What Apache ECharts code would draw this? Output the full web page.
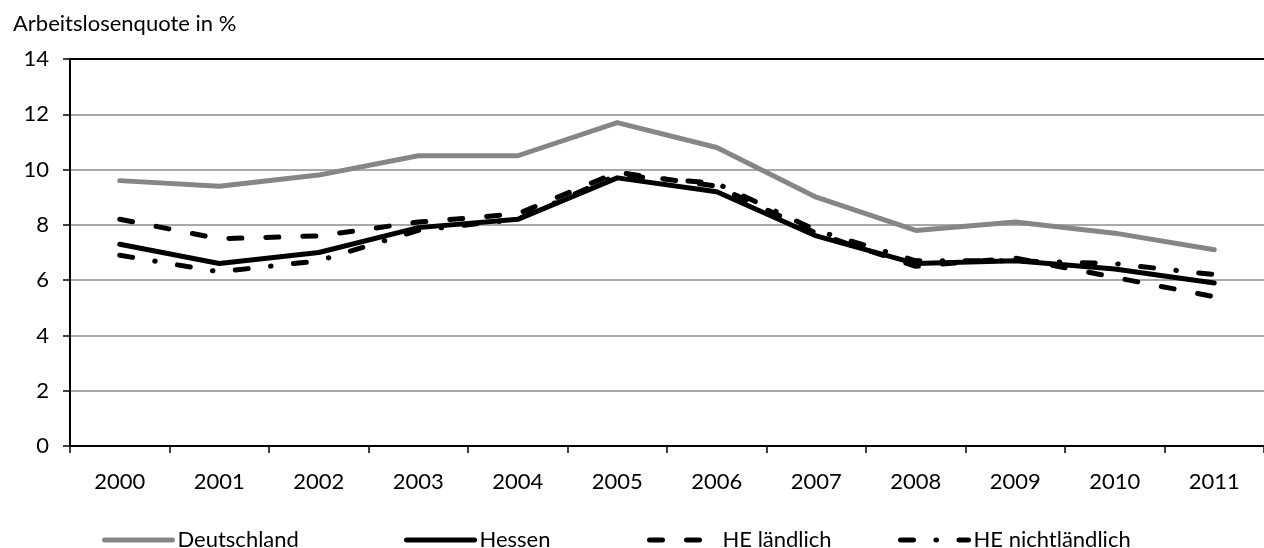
<!DOCTYPE html>
<html>
<head>
<meta charset="utf-8">
<script src="https://cdn.jsdelivr.net/npm/echarts@6/dist/echarts.min.js"></script>
<style>
  html, body { margin: 0; padding: 0; background: #fff; }
  #chart { width: 1264px; height: 548px; }
</style>
</head>
<body>
<div id="chart"></div>
<script>
const years = ["2000", "2001", "2002", "2003", "2004", "2005", "2006", "2007", "2008", "2009", "2010", "2011"];
const deutschland = [9.6, 9.4, 9.8, 10.5, 10.5, 11.7, 10.8, 9.0, 7.8, 8.1, 7.7, 7.1];
const hessen = [7.3, 6.6, 7.0, 7.9, 8.2, 9.7, 9.2, 7.6, 6.6, 6.7, 6.4, 5.9];
const heLaendlich = [8.2, 7.5, 7.6, 8.1, 8.4, 9.9, 9.4, 7.7, 6.5, 6.8, 6.1, 5.4];
const heNichtLaendlich = [6.9, 6.3, 6.7, 7.8, 8.2, 9.8, 9.5, 7.8, 6.7, 6.7, 6.6, 6.2];

const FONT = "Lato";
const TEXT_SIZE = 22;

function lineSeries(name, data, color, type) {
  return {
    name,
    type: "line",
    data,
    symbol: "none",
    animation: false,
    lineStyle: {
      color,
      width: 5,
      type,
      cap: "round",
      join: "round"
    },
    itemStyle: { color }
  };
}

// one legend per entry, so each can sit where Excel put it
function legendAt(name, left) {
  return {
    data: [name],
    left,
    top: 524,
    itemWidth: 68,
    itemHeight: 14,
    itemStyle: { opacity: 0 },
    lineStyle: { width: 5, cap: "round" },
    textStyle: { fontFamily: FONT, fontSize: TEXT_SIZE, color: "#000" }
  };
}

const chart = echarts.init(document.getElementById("chart"), null, { renderer: "canvas" });

chart.setOption({
  backgroundColor: "#fff",
  title: {
    text: "Arbeitslosenquote in %",
    left: 8,
    top: 8,
    textStyle: { fontFamily: FONT, fontSize: TEXT_SIZE, fontWeight: "normal", color: "#000" }
  },
  legend: [
    legendAt("Deutschland", 97),
    legendAt("Hessen", 399),
    legendAt("HE ländlich", 642),
    legendAt("HE nichtländlich", 893)
  ],
  grid: { left: 70, right: -1, top: 59, bottom: 102, containLabel: false },
  xAxis: [
    {
      type: "category",
      data: years,
      boundaryGap: true,
      axisLine: { lineStyle: { color: "#000", width: 2 } },
      axisTick: { show: true, length: 7, lineStyle: { color: "#000", width: 1.5 } },
      axisLabel: { margin: 25, fontFamily: FONT, fontSize: TEXT_SIZE, color: "#000" },
      splitLine: { show: false }
    },
    {
      type: "category",
      data: years,
      position: "top",
      axisLine: { lineStyle: { color: "#000", width: 2 } },
      axisTick: { show: false },
      axisLabel: { show: false }
    }
  ],
  yAxis: {
    type: "value",
    min: 0,
    max: 14,
    interval: 2,
    axisLine: { show: true, lineStyle: { color: "#000", width: 2 } },
    axisTick: { show: true, length: 7, lineStyle: { color: "#000", width: 1.5 } },
    axisLabel: { margin: 21, fontFamily: FONT, fontSize: TEXT_SIZE, color: "#000" },
    splitLine: { show: true, lineStyle: { color: "#8c8c8c", width: 1.5 } }
  },
  series: [
    lineSeries("Deutschland", deutschland, "#868686", "solid"),
    lineSeries("Hessen", hessen, "#000", "solid"),
    lineSeries("HE ländlich", heLaendlich, "#000", [13, 24]),
    lineSeries("HE nichtländlich", heNichtLaendlich, "#000", [13, 22.5, 0.5, 22.5])
  ]
});
</script>
</body>
</html>
